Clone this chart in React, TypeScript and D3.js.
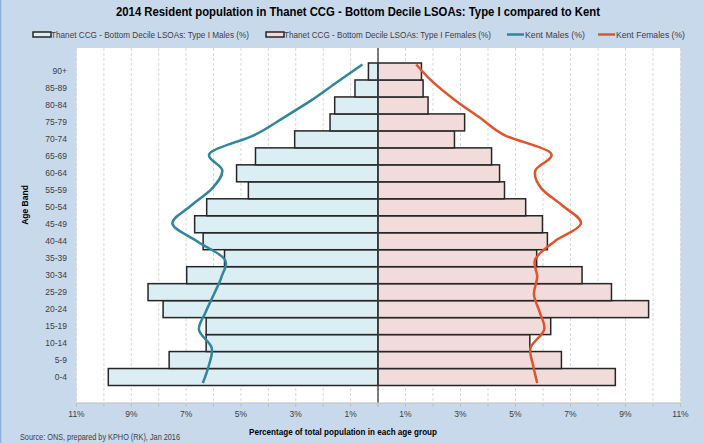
import * as d3 from 'd3';
import React, { useRef, useEffect } from 'react';

const ageBands = ["0-4", "5-9", "10-14", "15-19", "20-24", "25-29", "30-34", "35-39", "40-44", "45-49",
  "50-54", "55-59", "60-64", "65-69", "70-74", "75-79", "80-84", "85-89", "90+"]

// Thanet CCG bottom decile LSOAs (%)
const thanetMales = [9.84, 7.62, 6.27, 6.27, 7.84, 8.39, 6.98, 5.6, 6.38, 6.69,
  6.25, 4.73, 5.16, 4.47, 3.04, 1.75, 1.58, 0.84, 0.35]
const thanetFemales = [8.63, 6.67, 5.52, 6.28, 9.84, 8.49, 7.42, 5.77, 6.16, 5.98,
  5.37, 4.6, 4.42, 4.13, 2.78, 3.15, 1.82, 1.64, 1.58]

// Kent (%)
const kentMales = [6.39, 6.17, 6.07, 6.53, 6.29, 5.99, 5.71, 5.6, 6.59, 7.5,
  6.84, 6.05, 5.68, 6.13, 4.53, 3.44, 2.41, 1.5, 0.57]
const kentFemales = [5.79, 5.64, 5.55, 6.04, 5.88, 5.67, 5.79, 5.72, 6.42, 7.38,
  6.73, 5.94, 5.72, 6.28, 4.61, 3.7, 2.79, 2.0, 1.39]

const xTicks = [1, 3, 5, 7, 9, 11]
const gridTicks = d3.range(0, 12)

const W = 704, H = 443
const plot = { left: 76.5, right: 680.5, top: 48, bottom: 403, zero: 378 }
const FONT = "'Liberation Sans', Arial, sans-serif"
const TXT = '#404040'

function Pyramid() {
  const ref = useRef<SVGSVGElement>(null)

  useEffect(() => {
    const svg = d3.select(ref.current)
    svg.selectAll('*').remove()

    svg.append('rect').attr('x', 0.5).attr('y', -2).attr('width', W + 4).attr('height', H + 4)
      .attr('fill', '#C9D9EC').attr('stroke', '#8DAFD8').attr('stroke-width', 1.5)

    svg.append('rect')
      .attr('x', plot.left).attr('y', plot.top)
      .attr('width', plot.right - plot.left).attr('height', plot.bottom - plot.top)
      .attr('fill', '#fff')

    const xL = d3.scaleLinear().domain([0, 11]).range([plot.zero, plot.left])
    const xR = d3.scaleLinear().domain([0, 11]).range([plot.zero, plot.right])

    // bars
    const y = d3.scaleBand().domain(ageBands).range([385.5, 63]).padding(0)
    // line points sit on their own category spacing
    const yLine = d3.scalePoint().domain(ageBands).range([383, 64.5])

    // gridlines
    const grid = svg.append('g')
    const allGrid = [...gridTicks.map(v => xL(v)), ...gridTicks.map(v => xR(v))]
    grid.selectAll('line').data(allGrid).enter().append('line')
      .attr('x1', d => d).attr('x2', d => d)
      .attr('y1', plot.top).attr('y2', plot.bottom)
      .attr('stroke', '#D9D9D9').attr('stroke-width', 1)
      .attr('stroke-dasharray', '3,2')

    const bars = svg.append('g')
    bars.selectAll('rect.m').data(ageBands).enter().append('rect')
      .attr('class', 'm')
      .attr('x', (d, i) => xL(thanetMales[i]))
      .attr('y', d => y(d)!)
      .attr('width', (d, i) => plot.zero - xL(thanetMales[i]))
      .attr('height', y.bandwidth())
      .attr('fill', '#DAEEF3').attr('stroke', '#262626').attr('stroke-width', 1.5)

    bars.selectAll('rect.f').data(ageBands).enter().append('rect')
      .attr('class', 'f')
      .attr('x', plot.zero)
      .attr('y', d => y(d)!)
      .attr('width', (d, i) => xR(thanetFemales[i]) - plot.zero)
      .attr('height', y.bandwidth())
      .attr('fill', '#F2DCDB').attr('stroke', '#262626').attr('stroke-width', 1.5)

    // centre axis
    svg.append('line').attr('x1', plot.zero).attr('x2', plot.zero)
      .attr('y1', plot.top).attr('y2', plot.bottom)
      .attr('stroke', '#404040').attr('stroke-width', 1.3)

    // kent lines
    const lineM = d3.line<number>()
      .x(d => xL(d)).y((d, i) => yLine(ageBands[i])!)
      .curve(d3.curveCatmullRom.alpha(0))
    const lineF = d3.line<number>()
      .x(d => xR(d)).y((d, i) => yLine(ageBands[i])!)
      .curve(d3.curveCatmullRom.alpha(0))

    svg.append('path').attr('d', lineM(kentMales))
      .attr('fill', 'none').attr('stroke', '#31859C').attr('stroke-width', 2.5)
    svg.append('path').attr('d', lineF(kentFemales))
      .attr('fill', 'none').attr('stroke', '#E0532B').attr('stroke-width', 2.5)

    // x axis
    const ax = svg.append('g')
    ax.append('line').attr('x1', plot.left).attr('x2', plot.right)
      .attr('y1', plot.bottom).attr('y2', plot.bottom)
      .attr('stroke', '#BFBFBF').attr('stroke-width', 1)
    ax.selectAll('line.t').data(allGrid).enter().append('line')
      .attr('class', 't')
      .attr('x1', d => d).attr('x2', d => d)
      .attr('y1', plot.bottom).attr('y2', plot.bottom + 4)
      .attr('stroke', '#BFBFBF')
    const labs = [...xTicks.map(v => ({ x: xL(v), t: v + '%' })), ...xTicks.map(v => ({ x: xR(v), t: v + '%' }))]
    ax.selectAll('text').data(labs).enter().append('text')
      .attr('x', d => d.x).attr('y', 417)
      .attr('text-anchor', 'middle')
      .style('font', `8.5px ${FONT}`).attr('fill', TXT)
      .text(d => d.t)

    // y labels
    svg.append('g').selectAll('text').data(ageBands).enter().append('text')
      .attr('x', 67).attr('y', d => y(d)! + y.bandwidth() / 2 + 3)
      .attr('text-anchor', 'end')
      .style('font', `8.5px ${FONT}`).attr('fill', TXT)
      .text(d => d)

    svg.append('text')
      .attr('transform', 'translate(28,205) rotate(-90)')
      .attr('text-anchor', 'middle')
      .style('font', `bold 8.5px ${FONT}`).attr('fill', '#000')
      .text('Age Band')

    svg.append('text')
      .attr('x', 343).attr('y', 435)
      .attr('text-anchor', 'middle')
      .attr('textLength', 188).attr('lengthAdjust', 'spacingAndGlyphs')
      .style('font', `bold 8.5px ${FONT}`).attr('fill', '#000')
      .text('Percentage of total population  in each age group')

    svg.append('text')
      .attr('x', 20).attr('y', 440)
      .attr('textLength', 160).attr('lengthAdjust', 'spacingAndGlyphs')
      .style('font', `8.5px ${FONT}`).attr('fill', TXT)
      .text('Source: ONS, prepared by KPHO (RK), Jan 2016')

    // title
    svg.append('text')
      .attr('x', 358).attr('y', 16)
      .attr('text-anchor', 'middle')
      .attr('textLength', 484).attr('lengthAdjust', 'spacingAndGlyphs')
      .style('font', `bold 12.5px ${FONT}`).attr('fill', '#000')
      .text('2014 Resident population in Thanet CCG - Bottom Decile LSOAs: Type I compared to Kent')

    // legend
    const leg = svg.append('g').style('font', `8.5px ${FONT}`)
    const legItems = [
      { x: 33, kind: 'box', fill: '#DAEEF3', stroke: '#262626', label: 'Thanet CCG - Bottom Decile LSOAs: Type I Males (%)', tw: 198 },
      { x: 266, kind: 'box', fill: '#F2DCDB', stroke: '#262626', label: 'Thanet CCG - Bottom Decile LSOAs: Type I Females (%)', tw: 207 },
      { x: 507, kind: 'line', fill: 'none', stroke: '#31859C', label: 'Kent Males (%)', tw: 60 },
      { x: 598, kind: 'line', fill: 'none', stroke: '#E0532B', label: 'Kent Females (%)', tw: 69 },
    ]
    legItems.forEach(it => {
      if (it.kind === 'box') {
        leg.append('rect').attr('x', it.x).attr('y', 32).attr('width', 18).attr('height', 5)
          .attr('fill', it.fill).attr('stroke', it.stroke).attr('stroke-width', 1.5)
      } else {
        leg.append('line').attr('x1', it.x).attr('x2', it.x + 17).attr('y1', 34.5).attr('y2', 34.5)
          .attr('stroke', it.stroke).attr('stroke-width', 2.5)
      }
      leg.append('text').attr('x', it.x + 18).attr('y', 37.5)
        .attr('textLength', it.tw).attr('lengthAdjust', 'spacingAndGlyphs')
        .attr('fill', TXT).text(it.label)
    })
  })

  return <svg ref={ref} width={W} height={H} style={{ position: 'absolute', left: 0, top: 0 }} />
}

export default function App() {
  return <Pyramid />
}
